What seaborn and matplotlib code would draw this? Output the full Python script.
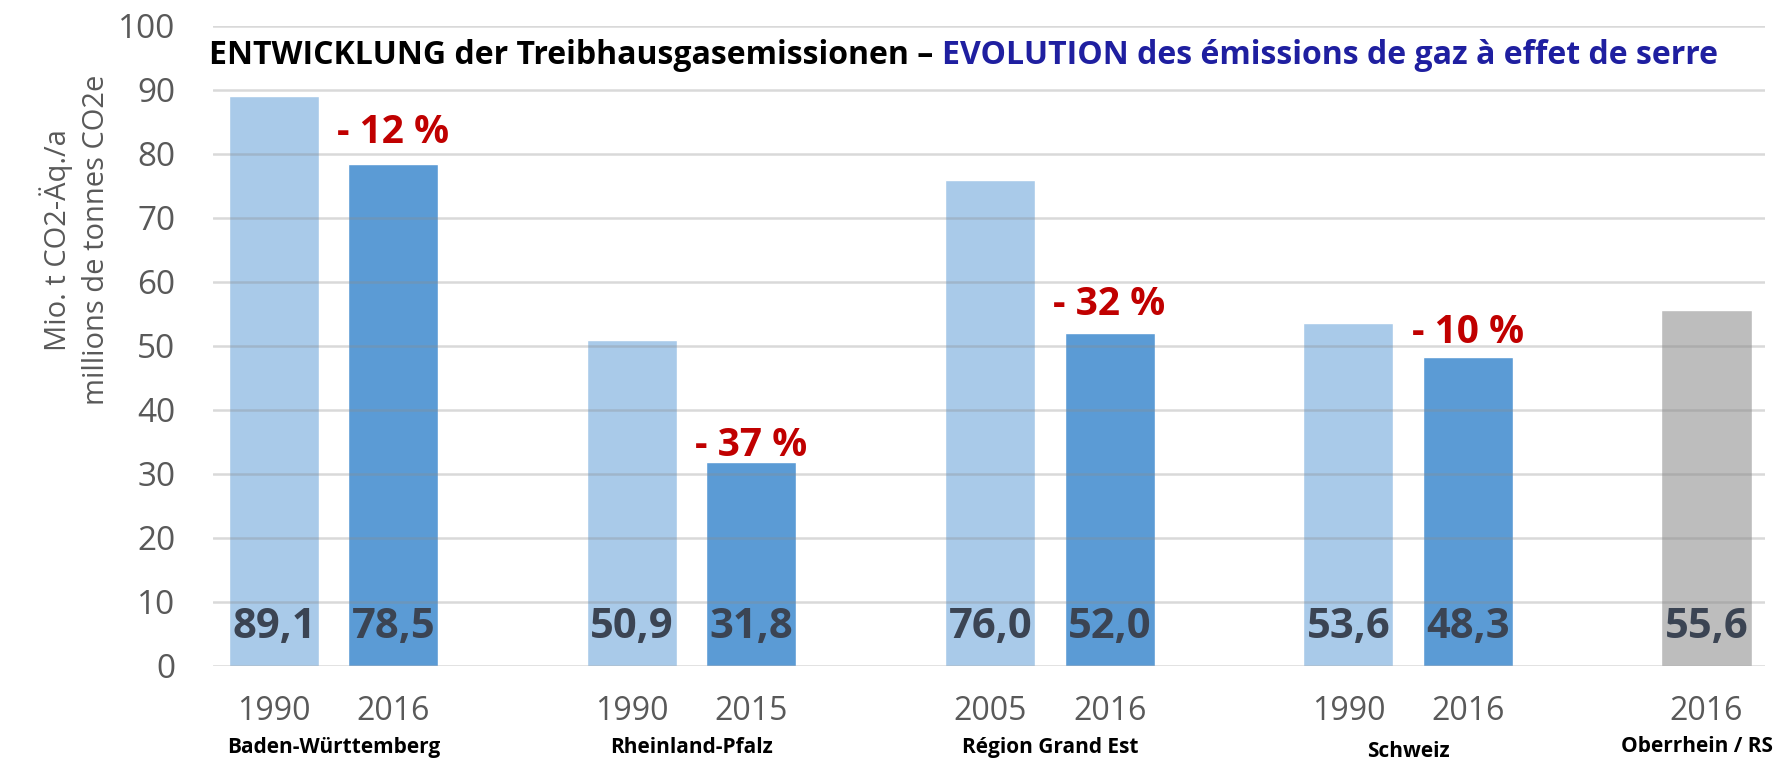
import matplotlib
matplotlib.use("Agg")
import matplotlib.pyplot as plt
import matplotlib.transforms as mtransforms
import seaborn as sns
import pandas as pd

# ---- data ----
regions = ["Baden-Württemberg", "Rheinland-Pfalz", "Région Grand Est", "Schweiz", "Oberrhein / RS"]
years = ["1990", "2016", "1990", "2015", "2005", "2016", "1990", "2016", "2016"]
values = [89.1, 78.5, 50.9, 31.8, 76.0, 52.0, 53.6, 48.3, 55.6]
bar_region = [0, 0, 1, 1, 2, 2, 3, 3, 4]
bar_within = [0, 1, 0, 1, 0, 1, 0, 1, 0]
kinds = ["ref", "recent", "ref", "recent", "ref", "recent", "ref", "recent", "total"]
changes = ["- 12 %", "- 37 %", "- 32 %", "- 10 %"]

title_de = "ENTWICKLUNG der Treibhausgasemissionen – "
title_fr = "EVOLUTION des émissions de gaz à effet de serre"
ylabel = "Mio. t CO2-Äq./a\nmillions de tonnes CO2e"

# ---- style ----
sns.set_style("white")
plt.rcParams["font.family"] = ["Open Sans", "DejaVu Sans"]

palette = {"ref": "#a9cae9", "recent": "#5b9bd5", "total": "#bdbdbd"}
slots = [3 * r + w for r, w in zip(bar_region, bar_within)]
df = pd.DataFrame({"slot": slots, "value": values, "kind": kinds})

fig = plt.figure(figsize=(17.75, 7.63), dpi=100)
ax = fig.add_axes([213 / 1775, 1 - 666 / 763, (1765 - 213) / 1775, (666 - 26) / 763])

sns.barplot(data=df, x="slot", y="value", hue="kind", palette=palette,
            order=list(range(13)), width=0.754, dodge=False, saturation=1,
            legend=False, ax=ax, zorder=1)

ax.set_xlim(-0.51, 12.49)
ax.set_ylim(0, 100)
ax.set_yticks(range(0, 101, 10))
ax.yaxis.grid(True, color="#8c8c8c", alpha=0.33, lw=1.8, zorder=2)
ax.set_axisbelow(False)
for s in ax.spines.values():
    s.set_visible(False)
ax.set_xticks(slots)
ax.set_xticklabels(years)
ax.set_xlabel("")
ax.set_ylabel("")
ax.tick_params(axis="y", length=0, pad=27, labelsize=24, labelcolor="#595959")
ax.tick_params(axis="x", length=0, pad=21, labelsize=23, labelcolor="#595959")

# value labels inside bars
for s, v in zip(slots, values):
    ax.text(s, 4.4, f"{v:.1f}".replace(".", ","), ha="center", va="baseline",
            fontsize=30, fontweight="bold", color="#3b4453", zorder=5)

# change labels above the recent bars
offsets = [3.2, 1.0, 2.8, 2.1]
recent = [(s, v) for s, v, k in zip(slots, values, kinds) if k == "recent"]
for (s, v), lab, off in zip(recent, changes, offsets):
    ax.text(s, v + off, lab, ha="center", va="baseline", fontsize=28,
            fontweight="bold", color="#c00000", zorder=5)

# region labels
trans = mtransforms.blended_transform_factory(ax.transData, ax.transAxes)
label_y = [-0.127, -0.127, -0.127, -0.134]
for i, name in enumerate(regions[:4]):
    ax.text(3 * i + 0.5, label_y[i], name, transform=trans, ha="center", va="center",
            fontsize=15, fontweight="bold", color="black")
ax.text(1773 / 1775, 1 - 747 / 763, regions[4], transform=fig.transFigure,
        ha="right", va="center", fontsize=15, fontweight="bold", color="black")

# y label
fig.text(75 / 1775, 1 - 240 / 763, ylabel, rotation=90, ha="center", va="center",
         multialignment="center", fontsize=21, color="#595959", linespacing=1.4)

# two-coloured title
fig.canvas.draw()
r = fig.canvas.get_renderer()
t1 = fig.text(209 / 1775, 1 - 64 / 763, title_de, ha="left", va="baseline",
              fontsize=23, fontweight="bold", color="black")
bb = t1.get_window_extent(renderer=r)
fig.text(bb.x1 / fig.bbox.width, 1 - 64 / 763, title_fr, ha="left", va="baseline",
         fontsize=23, fontweight="bold", color="#1f1fa0")

fig.savefig("out.png", dpi=100)
